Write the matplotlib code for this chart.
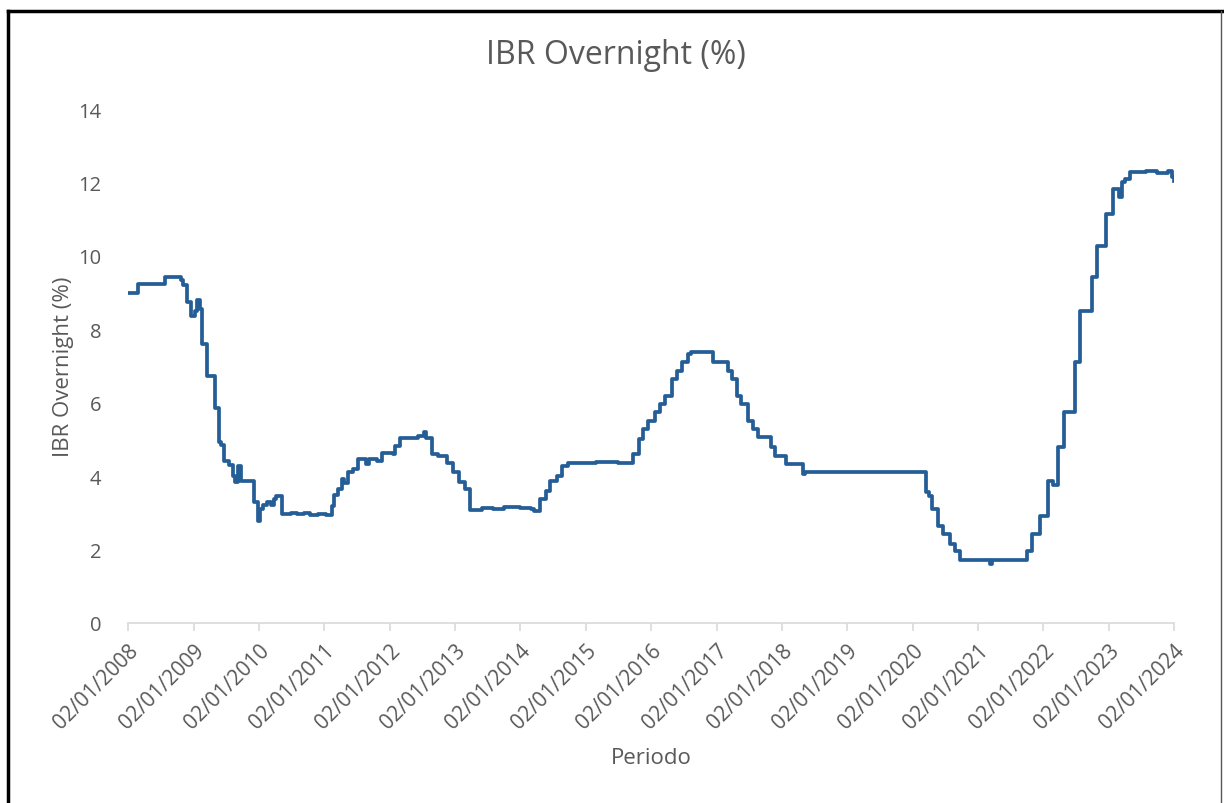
import matplotlib
matplotlib.use("Agg")
import matplotlib.pyplot as plt
import matplotlib.dates as mdates
import pandas as pd
from matplotlib.lines import Line2D

# Datos (fecha de cambio, valor IBR overnight %)
fechas = [
    "2008-01-02", "2008-02-25", "2008-07-28", "2008-10-25", "2008-11-05", "2008-11-25",
    "2008-12-20", "2009-01-10", "2009-01-22", "2009-02-05", "2009-02-20", "2009-03-20",
    "2009-05-01", "2009-05-22", "2009-06-05", "2009-06-22", "2009-07-20", "2009-08-10",
    "2009-08-20", "2009-09-05", "2009-09-25", "2009-12-05", "2009-12-26", "2010-01-08",
    "2010-01-25", "2010-02-15", "2010-03-10", "2010-03-25", "2010-04-08", "2010-05-12",
    "2010-07-01", "2010-08-01", "2010-09-10", "2010-10-15", "2010-12-01", "2011-01-10",
    "2011-02-15", "2011-02-28", "2011-03-20", "2011-04-10", "2011-04-25", "2011-05-15",
    "2011-06-10", "2011-07-10", "2011-08-25", "2011-09-10", "2011-10-25", "2011-11-20",
    "2012-01-20", "2012-02-01", "2012-03-01", "2012-06-10", "2012-07-10", "2012-07-25",
    "2012-08-25", "2012-10-01", "2012-11-20", "2012-12-20", "2013-01-25", "2013-02-25",
    "2013-03-25", "2013-06-01", "2013-08-01", "2013-10-01", "2014-01-01", "2014-03-01",
    "2014-03-20", "2014-04-20", "2014-05-25", "2014-06-15", "2014-07-25", "2014-08-25",
    "2014-09-25", "2015-03-01", "2015-07-01", "2015-09-15", "2015-09-25", "2015-10-28",
    "2015-11-20", "2015-12-15", "2016-01-25", "2016-02-22", "2016-03-18", "2016-04-28",
    "2016-05-25", "2016-06-22", "2016-07-25", "2016-08-10", "2016-12-15", "2017-03-05",
    "2017-03-28", "2017-04-28", "2017-05-20", "2017-06-25", "2017-07-25", "2017-08-22",
    "2017-11-05", "2017-11-25", "2018-01-28", "2018-04-28", "2018-05-10", "2019-06-01",
    "2020-03-20", "2020-04-05", "2020-04-22", "2020-05-22", "2020-06-20", "2020-07-28",
    "2020-08-25", "2020-09-25", "2021-03-10", "2021-03-20", "2021-09-30", "2021-10-30",
    "2021-12-15", "2022-01-28", "2022-02-25", "2022-03-25", "2022-04-28", "2022-06-30",
    "2022-07-25", "2022-10-01", "2022-10-28", "2022-12-20", "2023-01-28", "2023-03-01",
    "2023-03-15", "2023-04-01", "2023-05-01", "2023-08-01", "2023-10-01", "2023-12-01",
    "2023-12-20", "2024-01-02",
]
valores = [
    9.00, 9.23, 9.43, 9.35, 9.20, 8.74,
    8.36, 8.50, 8.80, 8.55, 7.60, 6.73,
    5.85, 4.93, 4.85, 4.40, 4.30, 4.00,
    3.85, 4.28, 3.88, 3.30, 2.78, 3.10,
    3.22, 3.30, 3.22, 3.38, 3.46, 2.97,
    3.00, 2.96, 3.00, 2.95, 2.97, 2.95,
    3.20, 3.50, 3.65, 3.92, 3.80, 4.10,
    4.20, 4.47, 4.33, 4.47, 4.40, 4.62,
    4.60, 4.82, 5.03, 5.08, 5.20, 5.05,
    4.60, 4.55, 4.35, 4.10, 3.85, 3.65,
    3.07, 3.12, 3.10, 3.15, 3.12, 3.10,
    3.05, 3.38, 3.60, 3.87, 4.00, 4.28,
    4.35, 4.38, 4.35, 4.36, 4.60, 5.00,
    5.28, 5.50, 5.74, 5.97, 6.18, 6.65,
    6.87, 7.10, 7.33, 7.38, 7.10, 6.87,
    6.65, 6.18, 5.97, 5.50, 5.28, 5.07,
    4.80, 4.55, 4.33, 4.06, 4.12, 4.12,
    3.57, 3.45, 3.10, 2.65, 2.42, 2.15,
    1.96, 1.72, 1.62, 1.72, 1.96, 2.42,
    2.91, 3.87, 3.75, 4.80, 5.74, 7.10,
    8.50, 9.42, 10.27, 11.14, 11.82, 11.60,
    12.00, 12.10, 12.28, 12.30, 12.26, 12.30,
    12.15, 12.04,
]
anios = list(range(2008, 2025))
y_ticks = [0, 2, 4, 6, 8, 10, 12, 14]

gris = "#595959"
azul = "#255E97"
plt.rcParams["font.family"] = ["Open Sans", "DejaVu Sans"]

fig = plt.figure(figsize=(12.24, 8.04), dpi=100)
ax = fig.add_axes([128 / 1224, 1 - 624 / 804, (1174 - 128) / 1224, (624 - 110) / 804])

x = pd.to_datetime(fechas)
ax.plot(x, valores, color=azul, linewidth=2.7, drawstyle="steps-post")

# Ejes
ticks_x = pd.to_datetime([f"{a}-01-02" for a in anios])
ax.set_xlim(ticks_x[0], ticks_x[-1])
ax.set_ylim(0, 14)
ax.set_xticks(ticks_x)
ax.xaxis.set_major_formatter(mdates.DateFormatter("%d/%m/%Y"))
ax.set_yticks(y_ticks)
ax.tick_params(axis="y", length=0, pad=19, labelsize=14.5, labelcolor=gris)
ax.tick_params(axis="x", length=6, width=1.2, color="#D9D9D9", pad=6, labelsize=15, labelcolor=gris)
plt.setp(ax.get_xticklabels(), rotation=45, ha="right", rotation_mode="anchor")
for s in ["top", "right", "left"]:
    ax.spines[s].set_visible(False)
ax.spines["bottom"].set_color("#D9D9D9")
ax.spines["bottom"].set_linewidth(1.2)

ax.set_xlabel("Periodo", fontsize=16, color=gris, labelpad=10)
ax.set_ylabel("IBR Overnight (%)", fontsize=16, color=gris, labelpad=3)
fig.text(616 / 1224, 1 - 56 / 804, "IBR Overnight (%)", fontsize=23, color=gris,
         ha="center", va="center")

# Borde de la imagen
fig.add_artist(Line2D([8 / 1224, 1222 / 1224], [1 - 12 / 804] * 2, color="black", linewidth=2.5))
fig.add_artist(Line2D([8 / 1224] * 2, [0, 1 - 12 / 804], color="black", linewidth=2.5))
fig.add_artist(Line2D([1221 / 1224] * 2, [0, 1 - 12 / 804], color="#555555", linewidth=1))

fig.savefig("out.png", dpi=100)
